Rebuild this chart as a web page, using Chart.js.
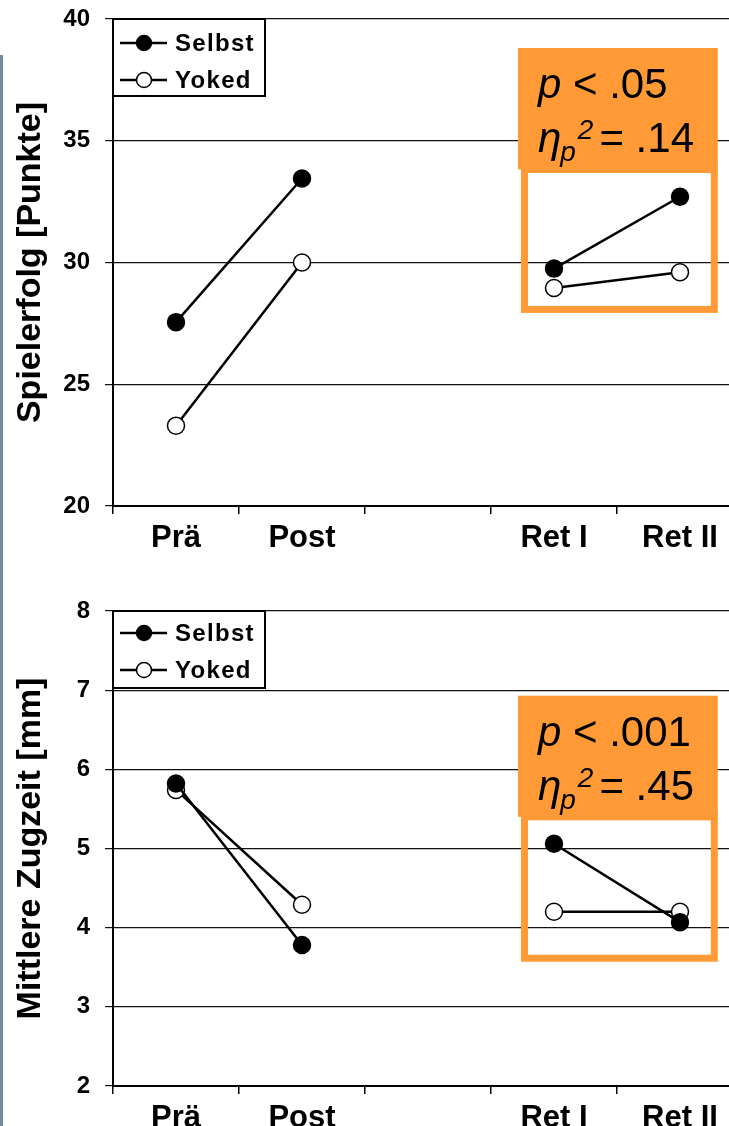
<!DOCTYPE html>
<html>
<head>
<meta charset="utf-8">
<script src="https://cdn.jsdelivr.net/npm/chart.js@4.4.1/dist/chart.umd.min.js"></script>
<style>
    html, body { margin: 0; padding: 0; background: #fff; }
    #page { position: relative; width: 729px; height: 1126px; overflow: hidden; }
    .panel { position: absolute; left: 0; width: 745px; }
    #edge { position: absolute; left: 0; top: 55px; width: 3px; height: 1071px; background: #7089a5; }
</style>
</head>
<body>
<div id="page">
    <div class="panel" style="top:0;height:563px"><canvas id="scoreChart"></canvas></div>
    <div class="panel" style="top:563px;height:580px"><canvas id="timeChart"></canvas></div>
    <div id="edge"></div>
</div>
<script>
const categories = ['Prä', 'Post', '', 'Ret I', 'Ret II'];
const seriesNames = ['Selbst', 'Yoked'];

const scoreSelbst = [27.55, 33.45, null, 29.75, 32.7];
const scoreYoked = [23.3, 30.0, null, 28.95, 29.6];
const scoreTicks = [20, 25, 30, 35, 40];
const scoreStats = ['.05', '.14'];

const timeSelbst = [5.82, 3.78, null, 5.06, 4.07];
const timeYoked = [5.74, 4.29, null, 4.2, 4.2];
const timeTicks = [2, 3, 4, 5, 6, 7, 8];
const timeStats = ['.001', '.45'];

const FONT = '"Liberation Sans", Arial, sans-serif';
const ORANGE = '#ff9a36';

// legend with a black frame, drawn in the top left corner of the plot
const boxedLegend = {
    id: 'boxedLegend',
    afterDatasetsDraw(chart, args, opts) {
        const ctx = chart.ctx;
        const left = chart.chartArea.left;
        const top = chart.chartArea.top;
        ctx.save();
        ctx.fillStyle = '#fff';
        ctx.fillRect(left, top, 152, 77);
        ctx.strokeStyle = '#000';
        ctx.lineWidth = 2;
        ctx.strokeRect(left, top, 152, 77);
        chart.data.datasets.forEach((ds, i) => {
            const y = top + opts.rows[i];
            ctx.beginPath();
            ctx.moveTo(left + 7, y);
            ctx.lineTo(left + 54, y);
            ctx.strokeStyle = '#000';
            ctx.lineWidth = 2.5;
            ctx.stroke();
            ctx.beginPath();
            ctx.arc(left + 31, y, 7.5, 0, Math.PI * 2);
            ctx.fillStyle = ds.pointBackgroundColor;
            ctx.fill();
            ctx.lineWidth = 1.5;
            ctx.stroke();
            ctx.fillStyle = '#000';
            ctx.font = 'bold 24px ' + FONT;
            ctx.letterSpacing = '1.3px';
            ctx.textBaseline = 'middle';
            ctx.fillText(ds.label, left + 62, y + 1);
        });
        ctx.restore();
    }
};

// orange statistics box around the retention points
const statBox = {
    id: 'statBox',
    beforeDatasetsDraw(chart, args, opts) {
        const ctx = chart.ctx;
        const xs = chart.scales.x, ys = chart.scales.y;
        const x0 = xs.getPixelForValue(opts.x0);
        const x1 = xs.getPixelForValue(opts.x1);
        const yTop = ys.getPixelForValue(opts.yTop);
        const yMid = ys.getPixelForValue(opts.yMid);
        const yBot = ys.getPixelForValue(opts.yBottom);
        ctx.save();
        ctx.fillStyle = ORANGE;
        ctx.fillRect(x0, yTop, x1 - x0, yMid - yTop);
        ctx.strokeStyle = ORANGE;
        ctx.lineWidth = 7;
        ctx.strokeRect(x0 + 6.5, yMid, x1 - x0 - 10, yBot - yMid - 3.5);

        ctx.fillStyle = '#000';
        ctx.textBaseline = 'alphabetic';
        let x = x0 + 20;
        let base = yTop + 50;
        ctx.font = 'italic 42px ' + FONT;
        ctx.fillText('p', x, base);
        x += ctx.measureText('p').width;
        ctx.font = '42px ' + FONT;
        ctx.fillText(' < ' + opts.text[0], x, base);

        x = x0 + 20;
        base = yTop + 104;
        ctx.font = 'italic 42px ' + FONT;
        ctx.fillText('η', x, base);
        x += ctx.measureText('η').width - 1;
        ctx.font = 'italic 28px ' + FONT;
        ctx.fillText('p', x, base + 9);
        const subW = ctx.measureText('p').width;
        ctx.fillText('2', x + subW + 2, base - 13);
        x += subW + 2 + ctx.measureText('2').width + 6;
        ctx.font = '42px ' + FONT;
        ctx.fillText('= ' + opts.text[1], x, base);
        ctx.restore();
    }
};

function makeChart(id, title, selbst, yoked, ticks, stats, box, padTop, legendRows) {
    const ctx = document.getElementById(id).getContext('2d');
    return new Chart(ctx, {
        type: 'line',
        data: {
            labels: categories,
            datasets: [
                {
                    label: seriesNames[0],
                    data: selbst,
                    borderColor: '#000',
                    borderWidth: 2.5,
                    pointBackgroundColor: '#000',
                    pointBorderColor: '#000',
                    pointBorderWidth: 1.5,
                    pointRadius: 8.5,
                    spanGaps: false,
                },
                {
                    label: seriesNames[1],
                    data: yoked,
                    borderColor: '#000',
                    borderWidth: 2.5,
                    pointBackgroundColor: '#fff',
                    pointBorderColor: '#000',
                    pointBorderWidth: 1.5,
                    pointRadius: 8.5,
                    spanGaps: false,
                }
            ]
        },
        options: {
            responsive: true,
            maintainAspectRatio: false,
            animation: false,
            layout: { autoPadding: false, padding: { top: padTop, right: 2, left: 0, bottom: 0 } },
            plugins: {
                legend: { display: false },
                tooltip: { enabled: false },
                boxedLegend: { rows: legendRows },
                statBox: Object.assign({ text: stats }, box),
            },
            scales: {
                x: {
                    type: 'category',
                    offset: true,
                    grid: { offset: true, drawOnChartArea: false, color: '#000', lineWidth: 1.5, tickLength: 8 },
                    border: { color: '#000', width: 2 },
                    ticks: { color: '#000', font: { family: FONT, size: 31, weight: 'bold' }, padding: 6, maxRotation: 0, autoSkip: false },
                    afterFit: s => { s.height = 57; s.paddingLeft = 0; s.paddingRight = 0; },
                },
                y: {
                    min: ticks[0],
                    max: ticks[ticks.length - 1],
                    afterBuildTicks: s => { s.ticks = ticks.map(v => ({ value: v })); },
                    grid: { color: '#111', lineWidth: 1.2, tickLength: 8 },
                    border: { color: '#000', width: 2 },
                    ticks: { color: '#000', font: { family: FONT, size: 24, weight: 'bold' }, padding: 15 },
                    title: { display: true, text: title, color: '#000', font: { family: FONT, size: 34, weight: 'bold' }, padding: { top: 10, bottom: 0 } },
                    afterFit: s => { s.width = 113; s.paddingTop = 0; s.paddingBottom = 0; },
                }
            }
        },
        plugins: [statBox, boxedLegend]
    });
}

makeChart('scoreChart', 'Spielerfolg [Punkte]', scoreSelbst, scoreYoked, scoreTicks, scoreStats,
    { x0: 2.714, x1: 4.30, yTop: 38.81, yMid: 33.82, yBottom: 27.93 }, 19, [24, 61]);
makeChart('timeChart', 'Mittlere Zugzeit [mm]', timeSelbst, timeYoked, timeTicks, timeStats,
    { x0: 2.714, x1: 4.30, yTop: 6.93, yMid: 5.40, yBottom: 3.57 }, 48, [22, 59]);
</script>
</body>
</html>
